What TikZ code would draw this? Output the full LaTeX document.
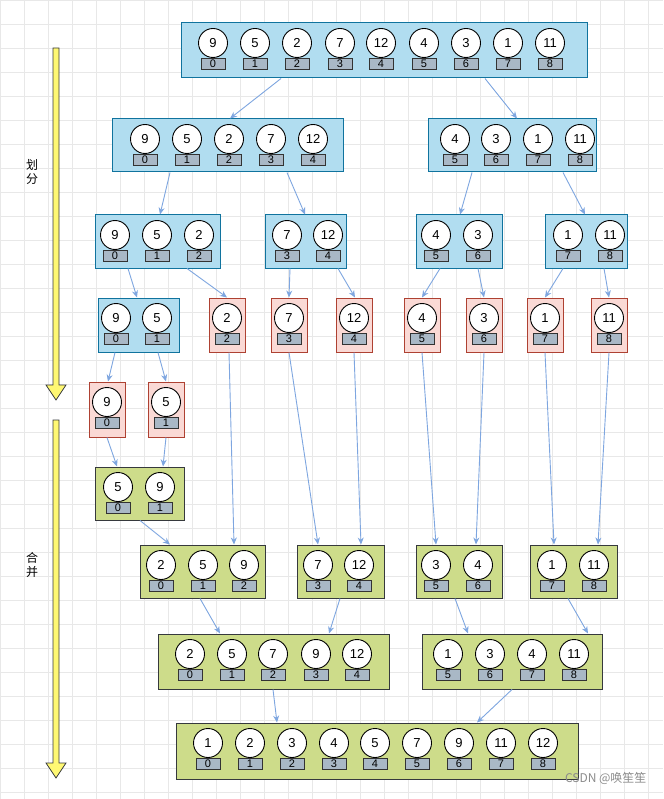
\documentclass[tikz,border=0pt]{standalone}
\usepackage{fontspec}
\usetikzlibrary{arrows.meta}
\setmainfont{Liberation Sans}
\newfontfamily\cjk{Noto Sans CJK SC}
\definecolor{bfill}{HTML}{B1DDF0}\definecolor{bline}{HTML}{10739E}
\definecolor{rfill}{HTML}{FAD9D5}\definecolor{rline}{HTML}{AE4132}
\definecolor{gfill}{HTML}{CDDC8A}\definecolor{gline}{HTML}{36393D}
\definecolor{ifill}{HTML}{A9B8C6}\definecolor{conn}{HTML}{7EA6E0}
\newcommand\el[4]{\node[ball] (b-#1-#2) at (#1,#2+20) {#3};\node[idx] (i-#1-#2) at (#1,#2+41) {#4};}
\begin{document}
\begin{tikzpicture}[x=1pt,y=-1pt,
  ball/.style={circle,draw=black,fill=white,line width=0.9pt,minimum size=29pt,inner sep=0pt,font=\fontsize{13}{13}\selectfont},
  idx/.style={rectangle,draw=black!80,fill=ifill,line width=0.7pt,minimum width=24pt,minimum height=11pt,inner sep=0pt,font=\fontsize{11}{11}\selectfont},
  bb/.style={rectangle,draw=bline,fill=bfill,line width=1pt,inner sep=0pt},
  rb/.style={rectangle,draw=rline,fill=rfill,line width=1pt,inner sep=0pt,minimum width=36pt,minimum height=54pt},
  gb/.style={rectangle,draw=gline,fill=gfill,line width=1pt,inner sep=0pt},
  cn/.style={draw=conn,line width=0.9pt,-{Stealth[length=7pt,width=6pt]}},
  ya/.style={draw=gline,fill=yellow!55,line width=0.8pt}]
\useasboundingbox (0,0) rectangle (663,799);
\fill[white] (0,0) rectangle (663,799);
\foreach \g in {0,24,...,792}{\draw[black!9,line width=0.6pt] (\g,0) -- (\g,799);}
\foreach \g in {0,24,...,792}{\draw[black!9,line width=0.6pt] (0,\g) -- (663,\g);}
% yellow arrows
\draw[ya] (53,48) -- (59,48) -- (59,385) -- (66,385) -- (56,400) -- (46,385) -- (53,385) -- cycle;
\draw[ya] (53,420) -- (59,420) -- (59,763) -- (66,763) -- (56,778) -- (46,763) -- (53,763) -- cycle;
\node[font=\cjk\fontsize{12}{14}\selectfont,align=center] (t1) at (32,172) {划\\分};
\node[font=\cjk\fontsize{12}{14}\selectfont,align=center] (t2) at (32,565) {合\\并};
% row 1
\node[bb,minimum width=406pt,minimum height=55pt] (T) at (384,50.5) {};
\el{213}{23}{9}{0}\el{255}{23}{5}{1}\el{297}{23}{2}{2}\el{340}{23}{7}{3}\el{381}{23}{12}{4}\el{424}{23}{4}{5}\el{466}{23}{3}{6}\el{508}{23}{1}{7}\el{550}{23}{11}{8}
% row 2
\node[bb,minimum width=231pt,minimum height=53pt] (A1) at (227.5,145.5) {};
\node[bb,minimum width=168pt,minimum height=53pt] (A2) at (512,145.5) {};
\el{145}{119}{9}{0}\el{187}{119}{5}{1}\el{229}{119}{2}{2}\el{271}{119}{7}{3}\el{313}{119}{12}{4}
\el{455}{119}{4}{5}\el{496}{119}{3}{6}\el{538}{119}{1}{7}\el{580}{119}{11}{8}
% row 3
\node[bb,minimum width=125pt,minimum height=53pt] (B1) at (157.5,241.5) {};
\node[bb,minimum width=81pt,minimum height=53pt] (B2) at (305.5,241.5) {};
\node[bb,minimum width=86pt,minimum height=53pt] (B3) at (459,241.5) {};
\node[bb,minimum width=82pt,minimum height=53pt] (B4) at (586,241.5) {};
\el{115}{215}{9}{0}\el{157}{215}{5}{1}\el{199}{215}{2}{2}\el{287}{215}{7}{3}\el{328}{215}{12}{4}
\el{436}{215}{4}{5}\el{478}{215}{3}{6}\el{568}{215}{1}{7}\el{610}{215}{11}{8}
% row 4
\node[bb,minimum width=81pt,minimum height=54pt] (C1) at (138.5,325) {};
\node[rb] (C2) at (227,325) {};\node[rb] (C3) at (289,325) {};\node[rb] (C4) at (354,325) {};
\node[rb] (C5) at (422,325) {};\node[rb] (C6) at (484,325) {};\node[rb] (C7) at (545,325) {};\node[rb] (C8) at (609,325) {};
\el{116}{298}{9}{0}\el{157}{298}{5}{1}\el{227}{298}{2}{2}\el{289}{298}{7}{3}\el{354}{298}{12}{4}
\el{422}{298}{4}{5}\el{484}{298}{3}{6}\el{545}{298}{1}{7}\el{609}{298}{11}{8}
% row 5
\node[rb,minimum height=55pt] (D1) at (107,409.5) {};\node[rb,minimum height=55pt] (D2) at (166,409.5) {};
\el{107}{382}{9}{0}\el{166}{382}{5}{1}
% row 6
\node[gb,minimum width=89pt,minimum height=53pt] (E1) at (139.5,493.5) {};
\el{118}{467}{5}{0}\el{160}{467}{9}{1}
% row 7
\node[gb,minimum width=125pt,minimum height=53pt] (F1) at (202.5,571.5) {};
\node[gb,minimum width=87pt,minimum height=53pt] (F2) at (340.5,571.5) {};
\node[gb,minimum width=86pt,minimum height=53pt] (F3) at (459,571.5) {};
\node[gb,minimum width=87pt,minimum height=53pt] (F4) at (573.5,571.5) {};
\el{161}{545}{2}{0}\el{203}{545}{5}{1}\el{244}{545}{9}{2}\el{318}{545}{7}{3}\el{359}{545}{12}{4}
\el{436}{545}{3}{5}\el{478}{545}{4}{6}\el{552}{545}{1}{7}\el{594}{545}{11}{8}
% row 8
\node[gb,minimum width=231pt,minimum height=55pt] (G1) at (273.5,661.5) {};
\node[gb,minimum width=180pt,minimum height=55pt] (G2) at (512,661.5) {};
\el{190}{634}{2}{0}\el{232}{634}{5}{1}\el{273}{634}{7}{2}\el{316}{634}{9}{3}\el{357}{634}{12}{4}
\el{448}{634}{1}{5}\el{490}{634}{3}{6}\el{532}{634}{4}{7}\el{574}{634}{11}{8}
% row 9
\node[gb,minimum width=402pt,minimum height=56pt] (H) at (377,751) {};
\el{208}{723}{1}{0}\el{250}{723}{2}{1}\el{292}{723}{3}{2}\el{334}{723}{4}{3}\el{375}{723}{5}{4}\el{417}{723}{7}{5}\el{459}{723}{9}{6}\el{501}{723}{11}{7}\el{543}{723}{12}{8}
% connectors
\draw[cn] (T.south -| 281,0) -- (A1.north -| 230,0);
\draw[cn] (T.south -| 485,0) -- (A2.north -| 517,0);
\draw[cn] (A1.south -| 170,0) -- (B1.north -| 160,0);
\draw[cn] (A1.south -| 287,0) -- (B2.north -| 305,0);
\draw[cn] (A2.south -| 472,0) -- (B3.north -| 460,0);
\draw[cn] (A2.south -| 563,0) -- (B4.north -| 585,0);
\draw[cn] (B1.south -| 128,0) -- (C1.north -| 137,0);
\draw[cn] (B1.south -| 187,0) -- (C2.north -| 227,0);
\draw[cn] (B2.south -| 290,0) -- (C3.north -| 289,0);
\draw[cn] (B2.south -| 338,0) -- (C4.north -| 355,0);
\draw[cn] (B3.south -| 440,0) -- (C5.north -| 422,0);
\draw[cn] (B3.south -| 478,0) -- (C6.north -| 484,0);
\draw[cn] (B4.south -| 563,0) -- (C7.north -| 545,0);
\draw[cn] (B4.south -| 604,0) -- (C8.north -| 609,0);
\draw[cn] (C1.south -| 115,0) -- (D1.north -| 108,0);
\draw[cn] (C1.south -| 158,0) -- (D2.north -| 166,0);
\draw[cn] (D1.south -| 107,0) -- (E1.north -| 117,0);
\draw[cn] (D2.south -| 166,0) -- (E1.north -| 163,0);
\draw[cn] (E1.south -| 140,0) -- (F1.north -| 170,0);
\draw[cn] (C2.south -| 229,0) -- (F1.north -| 234,0);
\draw[cn] (C3.south -| 289,0) -- (F2.north -| 318,0);
\draw[cn] (C4.south -| 354,0) -- (F2.north -| 361,0);
\draw[cn] (C5.south -| 422,0) -- (F3.north -| 436,0);
\draw[cn] (C6.south -| 484,0) -- (F3.north -| 476,0);
\draw[cn] (C7.south -| 545,0) -- (F4.north -| 554,0);
\draw[cn] (C8.south -| 609,0) -- (F4.north -| 598,0);
\draw[cn] (F1.south -| 200,0) -- (G1.north -| 220,0);
\draw[cn] (F2.south -| 340,0) -- (G1.north -| 329,0);
\draw[cn] (F3.south -| 455,0) -- (G2.north -| 468,0);
\draw[cn] (F4.south -| 568,0) -- (G2.north -| 588,0);
\draw[cn] (G1.south -| 273,0) -- (H.north -| 277,0);
\draw[cn] (G2.south -| 512,0) -- (H.north -| 477,0);
\node[font=\cjk\fontsize{12}{12}\selectfont,text=black!45,anchor=east] (wm) at (650,778) {CSDN @唤笙笙};
\end{tikzpicture}
\end{document}
